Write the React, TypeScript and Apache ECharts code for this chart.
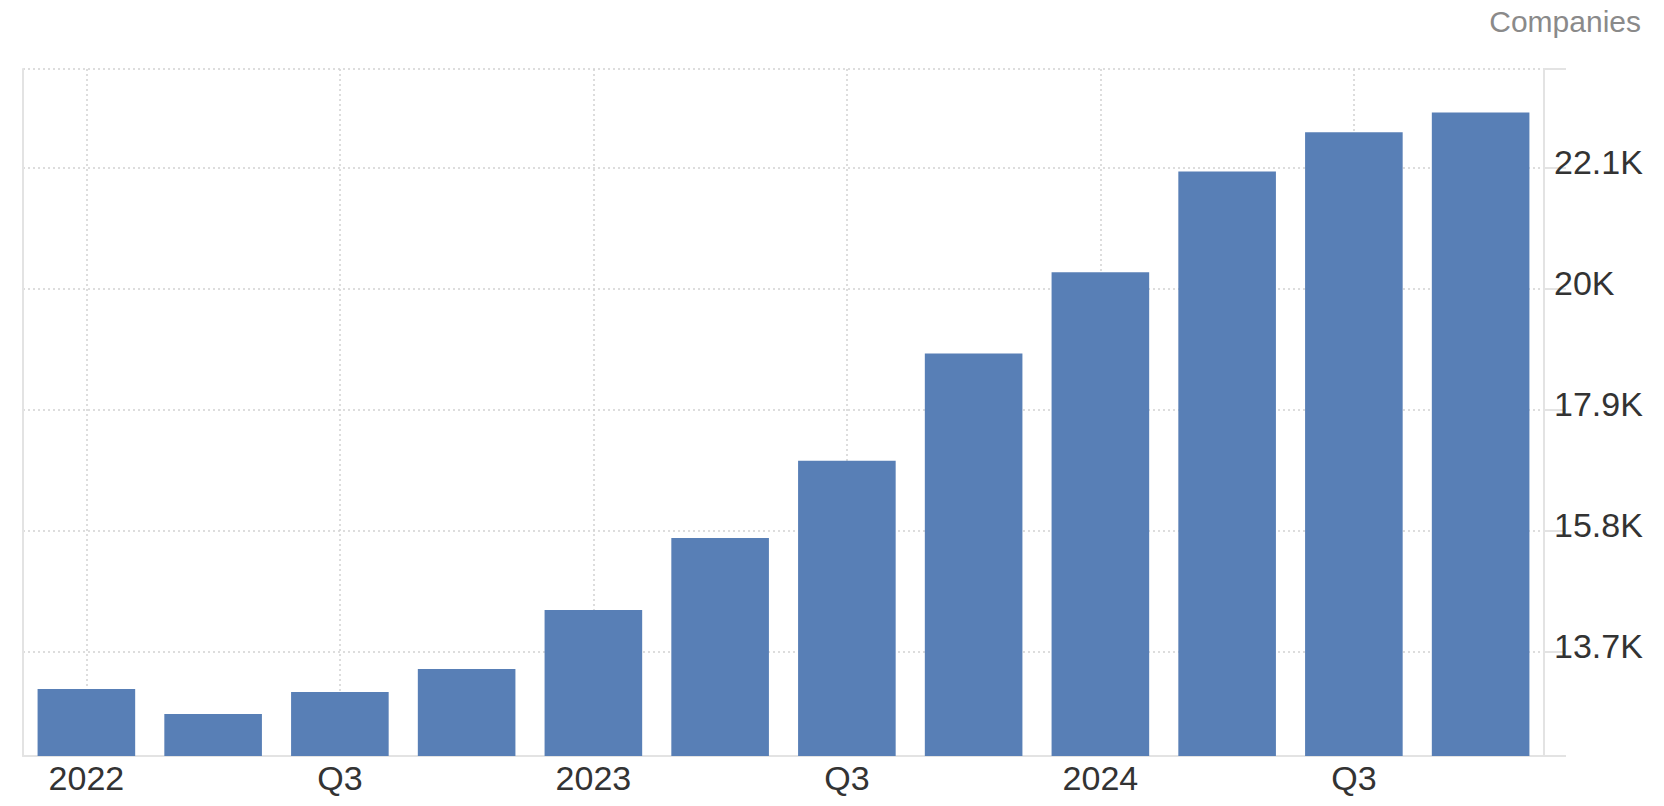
import React, { useEffect, useRef } from "react";
import * as echarts from "echarts";

const categories = ["2022", "Q2", "Q3", "Q4", "2023", "Q2", "Q3", "Q4", "2024", "Q2", "Q3", "Q4"];
const companies = [13058, 12624, 13006, 13405, 14432, 15678, 17020, 18882, 20295, 22043, 22725, 23067];
const yTickValues = [13700, 15800, 17900, 20000, 22100];
const yTickLabels = ["13.7K", "15.8K", "17.9K", "20K", "22.1K"];
const yMin = 11895;
const yMax = 23823;

const FONT = "'Liberation Sans', Arial, sans-serif";

export default function App() {
  const ref = useRef<HTMLDivElement>(null);
  useEffect(() => {
    document.body.style.margin = "0";
    const chart = echarts.init(ref.current!, null, { renderer: "svg" });
    const lineColor = "#e3e3e3";
    const dotColor = "#d2d2d2";
    chart.setOption({
      animation: false,
      title: {
        text: "Companies",
        right: 23,
        top: 6,
        padding: 0,
        textStyle: { fontFamily: FONT, fontSize: 30, fontWeight: "normal", color: "#8a8a8a" },
      },
      grid: { left: 23, right: 120, top: 69, bottom: 50 },
      xAxis: {
        type: "category",
        data: categories,
        boundaryGap: true,
        axisLine: { show: true, lineStyle: { color: lineColor, width: 2 } },
        axisTick: { show: false },
        axisLabel: {
          interval: 1,
          margin: 5,
          fontFamily: FONT,
          fontSize: 34,
          color: "#333333",
        },
        splitLine: {
          show: true,
          interval: 1,
          alignWithLabel: true,
          lineStyle: { color: dotColor, width: 1.5, type: [2, 3] },
        },
      },
      yAxis: [
        {
          type: "value",
          position: "right",
          min: yMin,
          max: yMax,
          axisLine: { show: true, lineStyle: { color: lineColor, width: 2 } },
          axisTick: {
            show: true,
            length: 22,
            customValues: [yMin, ...yTickValues, yMax],
            lineStyle: { color: lineColor, width: 2 },
          },
          axisLabel: {
            customValues: yTickValues,
            margin: 10,
            verticalAlign: "bottom",
            lineHeight: 12,
            fontFamily: FONT,
            fontSize: 34,
            color: "#333333",
            formatter: (v: number) => {
              const i = yTickValues.indexOf(v);
              return i >= 0 ? yTickLabels[i] : "";
            },
          },
          splitLine: {
            show: true,
            lineStyle: { color: dotColor, width: 1.5, type: [2, 3] },
          },
        },
        {
          type: "value",
          position: "left",
          min: yMin,
          max: yMax,
          axisLine: { show: true, lineStyle: { color: lineColor, width: 2 } },
          axisTick: { show: false },
          axisLabel: { show: false },
          splitLine: { show: false },
        },
      ],
      series: [
        {
          type: "bar",
          yAxisIndex: 0,
          data: companies,
          barCategoryGap: "23%",
          itemStyle: { color: "#587fb6" },
        },
      ],
    });
    return () => chart.dispose();
  }, []);
  return <div ref={ref} style={{ width: "1664px", height: "806px" }} />;
}
